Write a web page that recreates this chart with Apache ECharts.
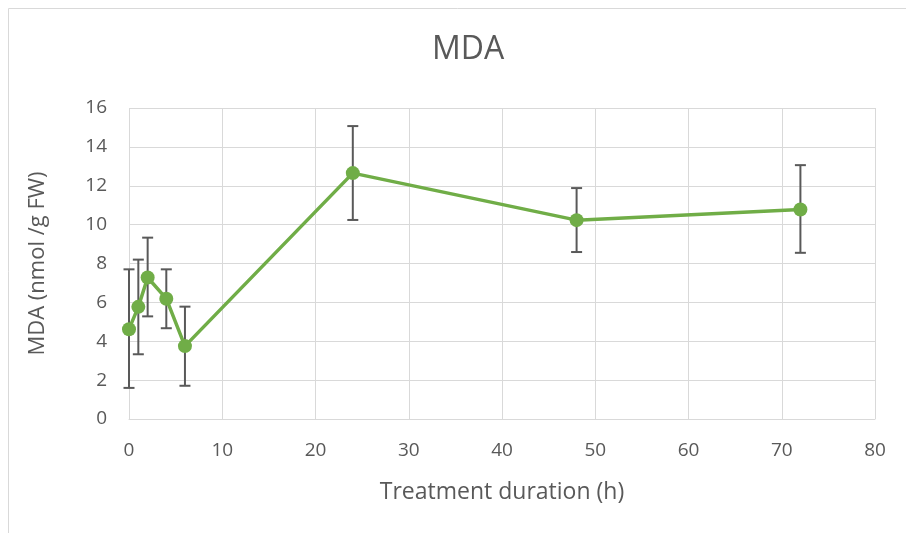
<!DOCTYPE html>
<html><head><meta charset="utf-8">
<script src="https://cdn.jsdelivr.net/npm/echarts@6/dist/echarts.min.js"></script>
<style>html,body{margin:0;padding:0;background:#fff}#c{width:906px;height:533px}</style>
</head><body><div id="c"></div>
<script>
const hours = [0, 1, 2, 4, 6, 24, 48, 72];
const mda = [4.62, 5.77, 7.28, 6.19, 3.75, 12.65, 10.23, 10.78];
const errUp = [3.08, 2.43, 2.05, 1.51, 2.03, 2.42, 1.65, 2.28];
const errDown = [3.02, 2.44, 2.0, 1.52, 2.04, 2.41, 1.64, 2.23];
const xTicks = [0, 10, 20, 30, 40, 50, 60, 70, 80];
const yTicks = [0, 2, 4, 6, 8, 10, 12, 14, 16];

const font = '"Open Sans", sans-serif';
const chart = echarts.init(document.getElementById('c'), null, {renderer: 'canvas'});
const lineData = hours.map((h, i) => [h, mda[i]]);
const errData = hours.map((h, i) => [h, mda[i] - errDown[i], mda[i] + errUp[i]]);
chart.setOption({
  animation: false,
  title: {text: 'MDA', left: 427, top: 29, textStyle: {fontFamily: font, fontSize: 32, fontWeight: 'normal', color: '#595959'}},
  graphic: [{type: 'rect', shape: {x: 8.5, y: 8.5, width: 1000, height: 1000}, style: {fill: 'none', stroke: '#d9d9d9', lineWidth: 1}, z: -1}],
  grid: {left: 129, right: 31, top: 108, bottom: 114},
  xAxis: {
    type: 'value', min: xTicks[0], max: xTicks[xTicks.length - 1], interval: 10,
    name: 'Treatment duration (h)', nameLocation: 'middle', nameGap: 62,
    nameTextStyle: {fontFamily: font, fontSize: 23, color: '#595959'},
    axisLine: {show: true, lineStyle: {color: '#d9d9d9', width: 1}},
    axisTick: {show: false},
    axisLabel: {fontFamily: font, fontSize: 19, color: '#595959', margin: 22},
    splitLine: {show: true, lineStyle: {color: '#d9d9d9', width: 1}}
  },
  yAxis: {
    type: 'value', min: yTicks[0], max: yTicks[yTicks.length - 1], interval: 2,
    name: 'MDA (nmol /g FW)', nameLocation: 'middle', nameGap: 80,
    nameTextStyle: {fontFamily: font, fontSize: 22, color: '#595959'},
    axisLine: {show: false}, axisTick: {show: false},
    axisLabel: {fontFamily: font, fontSize: 19, color: '#595959', margin: 22},
    splitLine: {show: true, lineStyle: {color: '#d9d9d9', width: 1}}
  },
  series: [
    {
      type: 'custom', z: 3,
      renderItem: function (params, api) {
        const x = api.value(0);
        const lo = api.coord([x, api.value(1)]);
        const hi = api.coord([x, api.value(2)]);
        const hw = 5.5;
        const st = {stroke: '#595959', lineWidth: 2, fill: 'none'};
        return {type: 'group', children: [
          {type: 'line', shape: {x1: lo[0], y1: lo[1], x2: hi[0], y2: hi[1]}, style: st},
          {type: 'line', shape: {x1: lo[0] - hw, y1: lo[1], x2: lo[0] + hw, y2: lo[1]}, style: st},
          {type: 'line', shape: {x1: hi[0] - hw, y1: hi[1], x2: hi[0] + hw, y2: hi[1]}, style: st}
        ]};
      },
      encode: {x: 0, y: [1, 2]},
      data: errData
    },
    {
      type: 'line', z: 4, data: lineData,
      symbol: 'circle', symbolSize: 14,
      lineStyle: {color: '#70AD47', width: 3.5},
      itemStyle: {color: '#70AD47'}
    }
  ]
});
</script></body></html>
